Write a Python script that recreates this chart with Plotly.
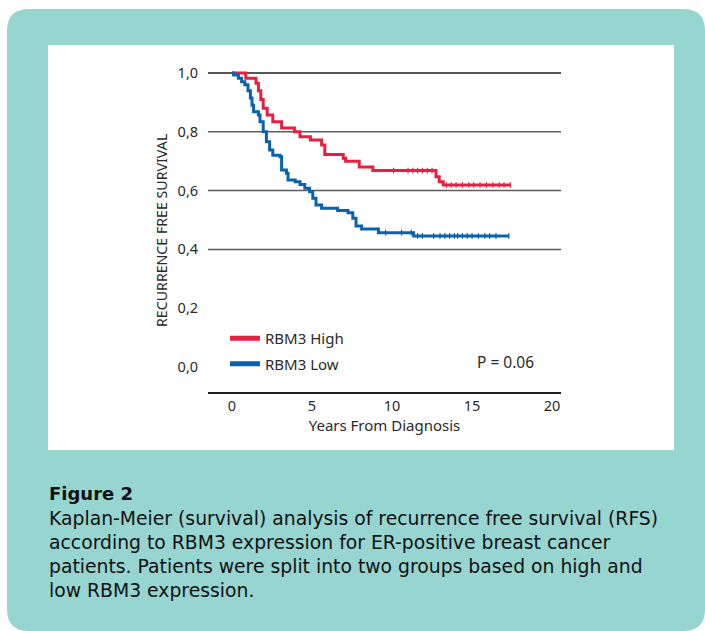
import numpy as np
import plotly.graph_objects as go

W, H = 705, 631

# Kaplan-Meier step points (years, survival) and censoring times
high_t = [0, 0.86, 1.5, 1.65, 1.8, 1.95, 2.2, 2.55, 3.1, 3.9, 4.25, 4.9, 5.6, 5.8,
          6.95, 7.1, 7.95, 8.8, 12.75, 12.95, 13.2, 17.4]
high_s = [1.0, 0.982, 0.965, 0.94, 0.91, 0.88, 0.857, 0.834, 0.813, 0.80, 0.783, 0.772,
          0.755, 0.723, 0.71, 0.70, 0.68, 0.668, 0.647, 0.63, 0.619, 0.619]
high_cens = [10.1, 11.0, 11.3, 11.6, 11.9, 12.2, 12.5, 13.4, 13.7, 14.0, 14.4, 14.8,
             15.1, 15.5, 15.9, 16.3, 16.7, 17.0, 17.4]

low_t = [0, 0.1, 0.4, 0.6, 0.8, 1.0, 1.15, 1.25, 1.35, 1.65, 1.75, 1.95, 2.15, 2.35,
         2.55, 3.0, 3.1, 3.4, 3.5, 3.95, 4.25, 4.55, 4.85, 5.05, 5.25, 5.6, 6.6, 7.25,
         7.55, 7.75, 8.1, 9.15, 11.35, 17.3]
low_s = [1.0, 0.993, 0.982, 0.97, 0.96, 0.94, 0.915, 0.89, 0.868, 0.857, 0.834, 0.80,
         0.766, 0.738, 0.72, 0.715, 0.67, 0.659, 0.636, 0.63, 0.621, 0.608, 0.596, 0.574,
         0.551, 0.54, 0.532, 0.525, 0.506, 0.48, 0.469, 0.457, 0.446, 0.446]
low_cens = [9.6, 10.6, 11.2, 11.6, 11.9, 12.6, 13.0, 13.3, 13.6, 13.9, 14.1, 14.4, 14.7,
            15.0, 15.4, 15.8, 16.1, 16.5, 17.3]

y_ticks = [0.0, 0.2, 0.4, 0.6, 0.8, 1.0]
y_labels = ["0,0", "0,2", "0,4", "0,6", "0,8", "1,0"]
grid_vals = [0.4, 0.6, 0.8, 1.0]
x_ticks = [0, 5, 10, 15, 20]

RED = "#E8203F"
BLUE = "#0A62AC"
TEAL = "#97D5D1"
INK = "#2a2a2a"
CHART_FONT = "Noto Sans, Open Sans, sans-serif"
CAP_FONT = "DejaVu Sans, Verdana, sans-serif"


def step_value(times, surv, at):
    idx = np.searchsorted(np.asarray(times), np.asarray(at), side="right") - 1
    return np.asarray(surv)[idx]


def px(x):
    return x / W


def py(y):
    return 1 - y / H


fig = go.Figure()

for name, t, s, cens, col, grp in [("RBM3 High", high_t, high_s, high_cens, RED, "h"),
                                   ("RBM3 Low", low_t, low_s, low_cens, BLUE, "l")]:
    fig.add_trace(go.Scatter(x=t, y=s, mode="lines", line=dict(color=col, width=3, shape="hv"),
                             name=name, legendgroup=grp, showlegend=False, hoverinfo="skip"))
    fig.add_trace(go.Scatter(x=cens, y=step_value(t, s, cens), mode="markers",
                             marker=dict(symbol="line-ns", size=4,
                                         line=dict(color=col, width=1.2)),
                             legendgroup=grp, showlegend=False, hoverinfo="skip"))
    # legend key drawn with a heavier stroke
    fig.add_trace(go.Scatter(x=[None], y=[None], mode="lines", line=dict(color=col, width=5),
                             name=name, legendgroup=grp, showlegend=True, hoverinfo="skip"))

# framed background and white chart panel
r = 22
x0, y0, x1, y1 = 7, 9, 705, 631
path = (f"M {px(x0 + r)} {py(y0)} L {px(x1 - r)} {py(y0)} "
        f"Q {px(x1)} {py(y0)} {px(x1)} {py(y0 + r)} L {px(x1)} {py(y1 - r)} "
        f"Q {px(x1)} {py(y1)} {px(x1 - r)} {py(y1)} L {px(x0 + r)} {py(y1)} "
        f"Q {px(x0)} {py(y1)} {px(x0)} {py(y1 - r)} L {px(x0)} {py(y0 + r)} "
        f"Q {px(x0)} {py(y0)} {px(x0 + r)} {py(y0)} Z")
shapes = [
    dict(type="path", path=path, xref="paper", yref="paper", fillcolor=TEAL,
         line=dict(width=0), layer="below"),
    dict(type="rect", xref="paper", yref="paper", x0=px(48), x1=px(674), y0=py(450), y1=py(45),
         fillcolor="white", line=dict(width=0), layer="below"),
]
for g in grid_vals:
    shapes.append(dict(type="line", xref="x domain", yref="y", x0=0, x1=1, y0=g, y1=g,
                       line=dict(color="#1e1e1e" if g == 1.0 else "#5e5e5e", width=1.5),
                       layer="below"))

annotations = [
    dict(text="RECURRENCE FREE SURVIVAL", x=px(161), y=py(230), xref="paper", yref="paper",
         xanchor="center", yanchor="middle", textangle=-90, showarrow=False,
         font=dict(family=CHART_FONT, size=14.2, color=INK)),
    dict(text="P = 0.06", x=px(475), y=py(362), xref="paper", yref="paper", xanchor="left",
         yanchor="middle", showarrow=False, font=dict(family=CHART_FONT, size=15.5, color=INK)),
    dict(text="<b>Figure 2</b>", x=px(47), y=py(494), xref="paper", yref="paper",
         xanchor="left", yanchor="middle", showarrow=False,
         font=dict(family=CAP_FONT, size=18, color="#111")),
]
caption = [
    "Kaplan-Meier (survival) analysis of recurrence free survival (RFS)",
    "according to RBM3 expression for ER-positive breast cancer",
    "patients. Patients were split into two groups based on high and",
    "low RBM3 expression.",
]
for i, line in enumerate(caption):
    annotations.append(dict(text=line, x=px(47), y=py(518 + 24 * i), xref="paper", yref="paper",
                            xanchor="left", yanchor="middle", showarrow=False,
                            font=dict(family=CAP_FONT, size=18.8, color="#111")))

fig.update_layout(
    width=W, height=H, margin=dict(l=0, r=0, t=0, b=0, autoexpand=False),
    paper_bgcolor="white", plot_bgcolor="rgba(0,0,0,0)",
    showlegend=True,
    legend=dict(x=px(225), y=py(322), xanchor="left", yanchor="top", bgcolor="rgba(0,0,0,0)",
                font=dict(family=CHART_FONT, size=15, color=INK),
                traceorder="grouped", tracegroupgap=3, itemwidth=30),
    xaxis=dict(domain=[px(208), px(561)], range=[-1.5, 20.56], tickvals=x_ticks,
               showgrid=False, zeroline=False, showline=True, linecolor="#1e1e1e", linewidth=1.5,
               ticks="outside", ticklen=0, tickcolor="rgba(0,0,0,0)", automargin=False,
               tickfont=dict(family=CHART_FONT, size=14.5, color=INK),
               title=dict(text="Years From Diagnosis", standoff=4,
                          font=dict(family=CHART_FONT, size=15, color=INK))),
    yaxis=dict(domain=[py(392), py(70)], range=[-0.085, 1.0102], tickvals=y_ticks,
               ticktext=y_labels, showgrid=False, zeroline=False, showline=False,
               ticks="outside", ticklen=6, tickcolor="rgba(0,0,0,0)", automargin=False,
               tickfont=dict(family=CHART_FONT, size=14.5, color=INK)),
    shapes=shapes, annotations=annotations,
)

fig.write_html("out.html")
